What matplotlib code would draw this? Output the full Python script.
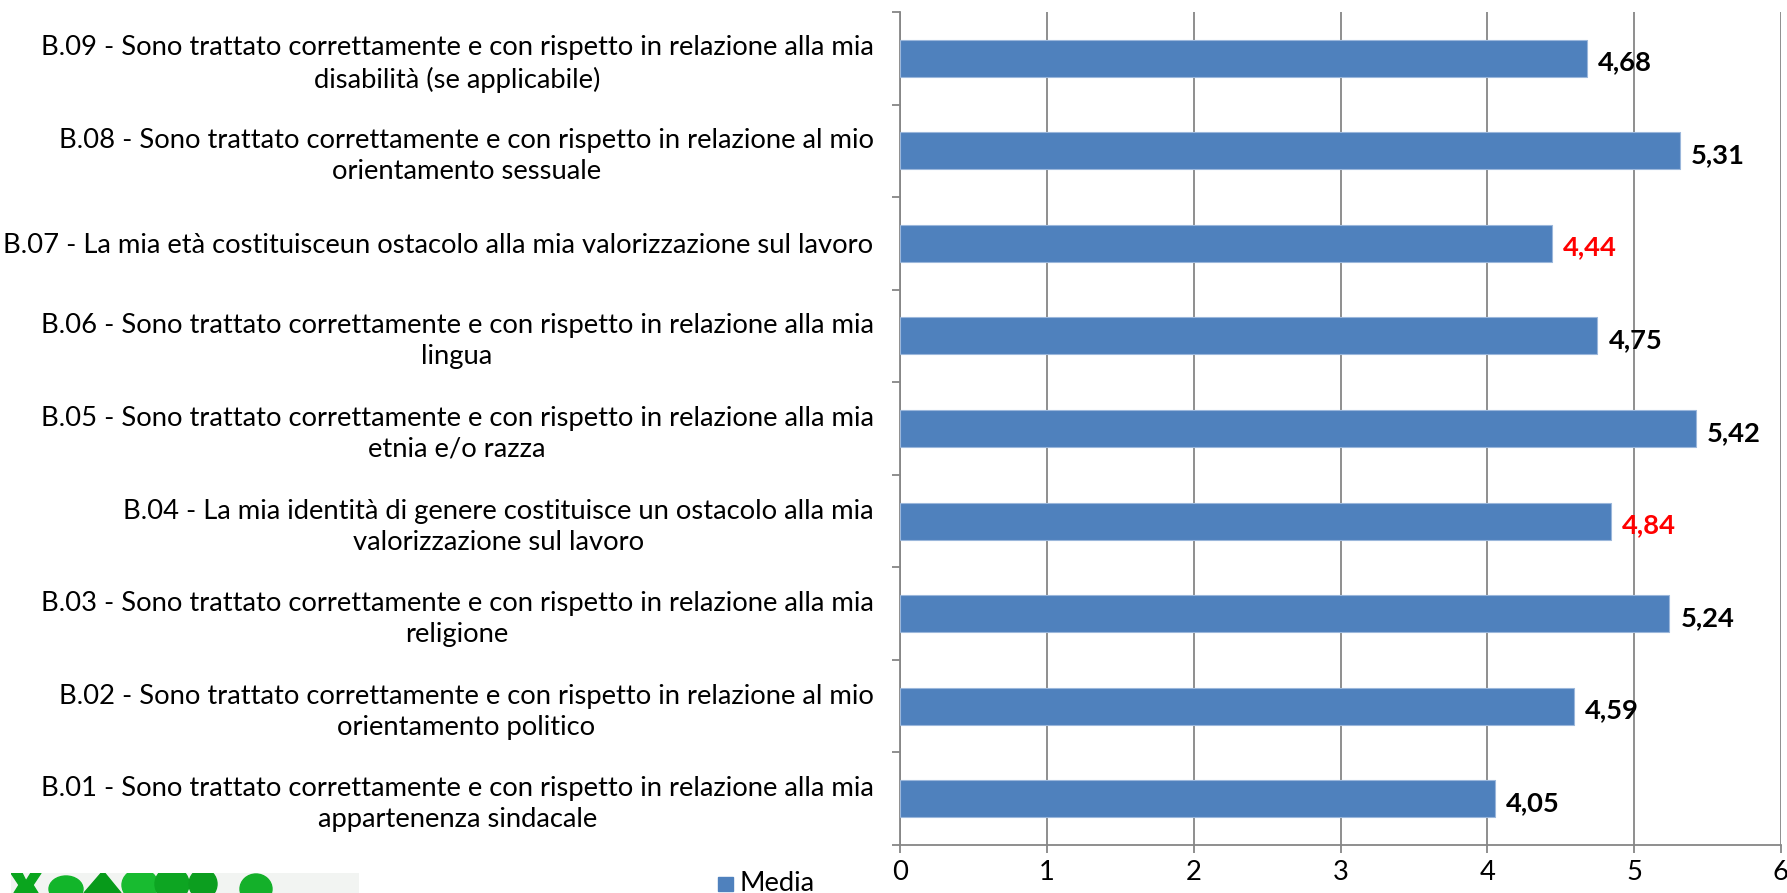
import matplotlib
matplotlib.use("Agg")
import matplotlib.pyplot as plt
from matplotlib.patches import Ellipse, Rectangle, Polygon
import numpy as np

plt.rcParams['font.family'] = ['Lato', 'DejaVu Sans']

categories = [
    "B.01 - Sono trattato correttamente e con rispetto in relazione alla mia\nappartenenza sindacale",
    "B.02 - Sono trattato correttamente e con rispetto in relazione al mio\norientamento politico",
    "B.03 - Sono trattato correttamente e con rispetto in relazione alla mia\nreligione",
    "B.04 - La mia identità di genere costituisce un ostacolo alla mia\nvalorizzazione sul lavoro",
    "B.05 - Sono trattato correttamente e con rispetto in relazione alla mia\netnia e/o razza",
    "B.06 - Sono trattato correttamente e con rispetto in relazione alla mia\nlingua",
    "B.07 - La mia età costituisceun ostacolo alla mia valorizzazione sul lavoro",
    "B.08 - Sono trattato correttamente e con rispetto in relazione al mio\norientamento sessuale",
    "B.09 - Sono trattato correttamente e con rispetto in relazione alla mia\ndisabilità (se applicabile)",
]
media = [4.05, 4.59, 5.24, 4.84, 5.42, 4.75, 4.44, 5.31, 4.68]
# statements phrased as obstacles are highlighted in red
highlight = [False, False, False, True, False, False, True, False, False]
series_name = "Media"
x_ticks = [0, 1, 2, 3, 4, 5, 6]

W, H = 1787, 893
fig = plt.figure(figsize=(W / 100, H / 100), dpi=100)
ax = fig.add_axes([900 / W, (H - 845) / H, (1781 - 900) / W, (845 - 12) / H])

# pick a font size so the widest label line spans ~835 px
renderer = fig.canvas.get_renderer()
probe = fig.text(0, 0, categories[0].split("\n")[0], fontsize=20)
probe_w = probe.get_window_extent(renderer).width
probe.remove()
FS = 20 * 835 / probe_w

bar_color = "#4F81BD"
grid_color = "#868686"

y = np.arange(len(categories))
ax.barh(y, media, height=0.4, color=bar_color, edgecolor="#9bb7db",
        linewidth=0.8, zorder=3)

for yi, v, hl in zip(y, media, highlight):
    ax.annotate(f"{v:.2f}".replace(".", ","), xy=(v, yi), xytext=(8, -3),
                textcoords="offset points", va="center", ha="left",
                fontsize=FS, fontweight="bold",
                color="#FF0000" if hl else "black", zorder=4)

ax.set_xlim(0, 6)
ax.set_ylim(-0.5, len(categories) - 0.5)
ax.set_xticks(x_ticks)
ax.set_xticklabels([str(t) for t in x_ticks], fontsize=FS)
ax.xaxis.grid(True, color=grid_color, linewidth=1.3, zorder=0)
ax.tick_params(axis="x", direction="out", length=6, width=1.3,
               color=grid_color, pad=5)

# category boundaries as major ticks, labels on minor ticks at centers
ax.set_yticks(np.arange(-0.5, len(categories), 1.0))
ax.set_yticklabels([])
ax.set_yticks(y, minor=True)
ax.set_yticklabels(categories, minor=True, fontsize=FS)
ax.tick_params(axis="y", which="major", direction="out", length=6,
               width=1.3, color=grid_color)
ax.tick_params(axis="y", which="minor", length=0, pad=19)
for lab in ax.get_yticklabels(minor=True):
    lab.set_multialignment("center")
    lab.set_linespacing(1.3)

for side in ["top", "right"]:
    ax.spines[side].set_visible(False)
for side in ["left", "bottom"]:
    ax.spines[side].set_color(grid_color)
    ax.spines[side].set_linewidth(1.3)

# legend
fig.patches.append(Rectangle((718 / W, (H - 891) / H), 15 / W, 14 / H,
                             transform=fig.transFigure, color=bar_color))
fig.text(740 / W, 2 / H, series_name, fontsize=FS, va="baseline", ha="left")

# logo strip
lax = fig.add_axes([11 / W, 0, (359 - 11) / W, 20 / H])
lax.set_xlim(11, 359)
lax.set_ylim(0, 20)
lax.set_facecolor("#f2f4f2")
lax.set_xticks([])
lax.set_yticks([])
for s in lax.spines.values():
    s.set_visible(False)
greens = ["#0aa51e", "#12b52a", "#079a1a", "#18bb30", "#0da522", "#0c9e1f", "#14b02a"]
lax.add_patch(Polygon([[11, 20], [22, 20], [26, 12], [31, 20], [41, 20],
                       [33, 8], [38, 0], [14, 0], [19, 8]], color=greens[0]))
lax.add_patch(Ellipse((66, 4), 34, 26, color=greens[1]))
lax.add_patch(Polygon([[84, 0], [103, 22], [121, 0]], color=greens[2]))
lax.add_patch(Ellipse((140, 8), 36, 32, color=greens[3]))
lax.add_patch(Ellipse((172, 9), 34, 34, color=greens[4]))
lax.add_patch(Ellipse((203, 9), 28, 30, color=greens[5]))
lax.add_patch(Ellipse((256, 4), 32, 30, color=greens[6]))

fig.savefig("out.png", dpi=100, facecolor="white")
